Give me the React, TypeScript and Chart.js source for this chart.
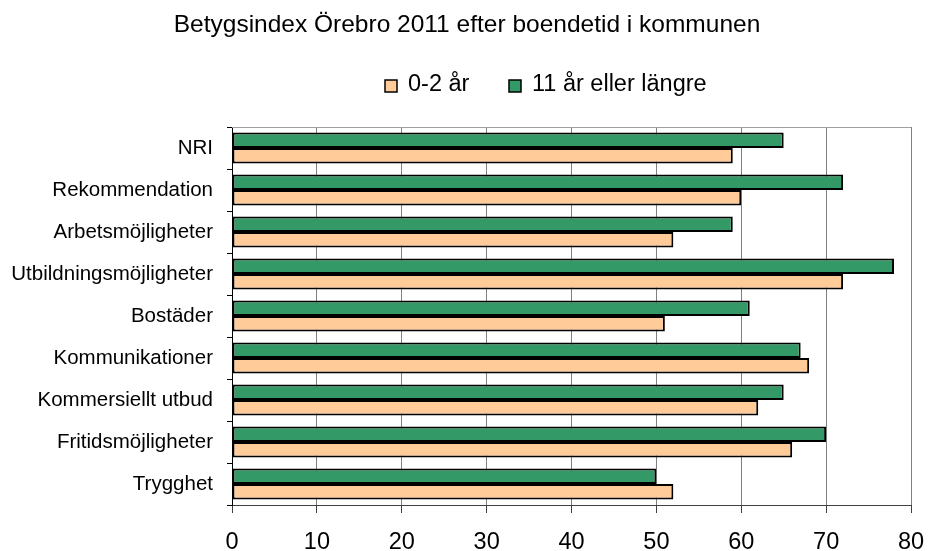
import React, { useEffect, useRef } from "react";
import { Chart, registerables } from "chart.js";

Chart.register(...registerables);

const chartTitle = "Betygsindex Örebro 2011 efter boendetid i kommunen";
const categories = [
  "NRI",
  "Rekommendation",
  "Arbetsmöjligheter",
  "Utbildningsmöjligheter",
  "Bostäder",
  "Kommunikationer",
  "Kommersiellt utbud",
  "Fritidsmöjligheter",
  "Trygghet",
];
const seriesShortName = "0-2 år";
const seriesLongName = "11 år eller längre";
const shortTenure = [59, 60, 52, 72, 51, 68, 62, 66, 52];
const longTenure = [65, 72, 59, 78, 61, 67, 65, 70, 50];
const xMin = 0;
const xMax = 80;
const xStep = 10;

const GREEN = "#339966";
const ORANGE = "#FFCC99";
const FONT = "'Liberation Sans', Arial, sans-serif";

const decorPlugin = {
  id: "decor",
  afterDraw(chart: any) {
    const ctx = chart.ctx;
    const area = chart.chartArea;
    ctx.save();
    // top border of plot
    ctx.strokeStyle = "#a0a0a0";
    ctx.lineWidth = 1;
    ctx.beginPath();
    ctx.moveTo(area.left, Math.round(area.top) + 0.5);
    ctx.lineTo(area.right, Math.round(area.top) + 0.5);
    ctx.stroke();

    // title
    ctx.fillStyle = "#000";
    ctx.font = `24.5px ${FONT}`;
    ctx.textAlign = "center";
    ctx.textBaseline = "middle";
    ctx.fillText(chartTitle, 467, 25);

    // legend
    const items = [
      { color: ORANGE, label: seriesShortName, x: 385 },
      { color: GREEN, label: seriesLongName, x: 509 },
    ];
    ctx.font = `23.5px ${FONT}`;
    ctx.textAlign = "left";
    for (const it of items) {
      ctx.fillStyle = it.color;
      ctx.fillRect(it.x, 80, 12, 12);
      ctx.strokeStyle = "#000";
      ctx.lineWidth = 1.5;
      ctx.strokeRect(it.x, 80, 12, 12);
      ctx.fillStyle = "#000";
      ctx.fillText(it.label, it.x + 23, 85);
    }
    ctx.restore();
  },
};

export default function App() {
  const ref = useRef<HTMLCanvasElement | null>(null);

  useEffect(() => {
    document.body.style.margin = "0";
    const canvas = ref.current!;
    const chart = new Chart(canvas, {
      type: "bar",
      data: {
        labels: categories,
        datasets: [
          {
            label: seriesLongName,
            data: longTenure,
            backgroundColor: GREEN,
            borderColor: "#000",
            borderWidth: 2,
            borderSkipped: false,
          },
          {
            label: seriesShortName,
            data: shortTenure,
            backgroundColor: ORANGE,
            borderColor: "#000",
            borderWidth: 2,
            borderSkipped: false,
          },
        ],
      },
      options: {
        indexAxis: "y",
        animation: false,
        responsive: false,
        maintainAspectRatio: false,
        layout: { padding: { top: 127, right: 17, bottom: 0, left: 0 } },
        datasets: {
          bar: { categoryPercentage: 0.74, barPercentage: 1 },
        },
        plugins: {
          legend: { display: false },
          title: { display: false },
          tooltip: { enabled: false },
        },
        scales: {
          x: {
            min: xMin,
            max: xMax,
            ticks: {
              stepSize: xStep,
              color: "#000",
              font: { family: FONT, size: 23.5 },
              padding: 15,
            },
            grid: {
              color: "#808080",
              lineWidth: 1,
              tickLength: 8,
              tickColor: "#404040",
            },
            border: { color: "#404040", width: 1 },
            afterFit: (s: any) => {
              s.height = 46;
              s.paddingRight = 0;
              s.paddingLeft = 0;
            },
          },
          y: {
            ticks: {
              color: "#000",
              font: { family: FONT, size: 20.5 },
              padding: 14,
            },
            grid: {
              drawOnChartArea: false,
              offset: true,
              tickLength: 5,
              tickColor: "#000",
            },
            border: { color: "#000", width: 1 },
            afterFit: (s: any) => {
              s.width = 232;
            },
          },
        },
      },
      plugins: [decorPlugin],
    });
    return () => chart.destroy();
  }, []);

  return (
    <div style={{ position: "absolute", left: 0, top: 0, width: 928, height: 551, background: "#fff" }}>
      <canvas ref={ref} width={928} height={551} style={{ width: 928, height: 551 }} />
    </div>
  );
}
